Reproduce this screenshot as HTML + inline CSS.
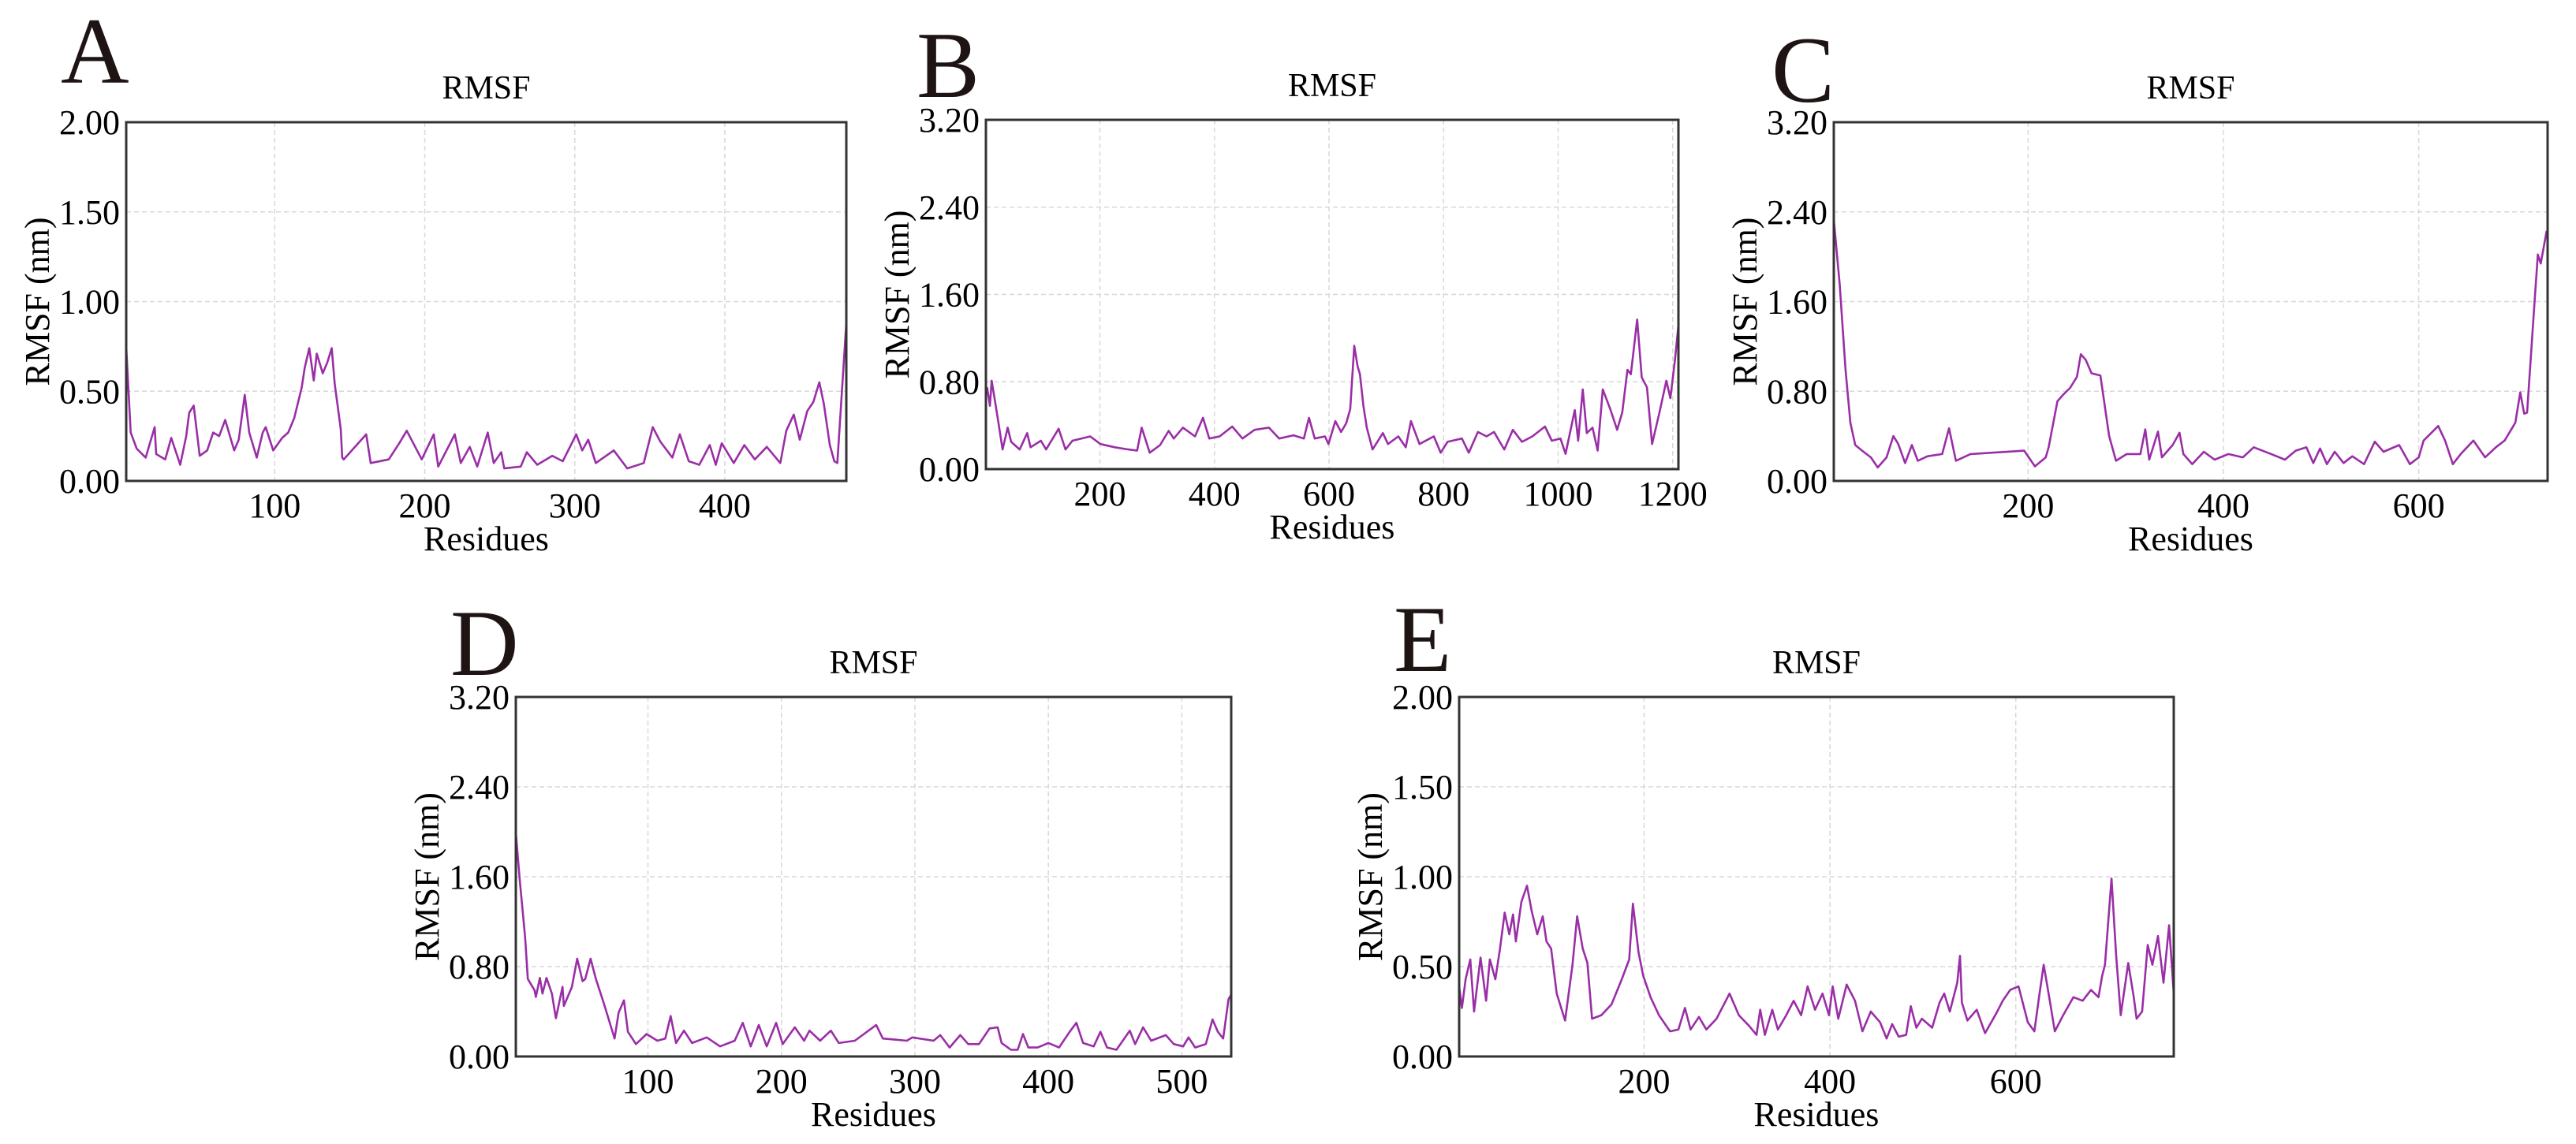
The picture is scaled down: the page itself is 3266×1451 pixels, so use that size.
<!DOCTYPE html>
<html><head><meta charset="utf-8"><style>
html,body{margin:0;padding:0;background:#fff;}
svg{display:block;font-family:"Liberation Serif",serif;}
svg text{font-family:"Liberation Serif",serif;}
</style></head><body>
<svg id="fig" xmlns="http://www.w3.org/2000/svg" width="3266" height="1451" viewBox="0 0 3266 1451"></svg>
<script>
// Panel A
const aRes=[1,4,8,14,20,21,27,31,37,41,43,46,50,55,59,63,67,73,76,80,83,88,92,94,99,105,109,113,118,120,123,126,128,132,135,138,140,144,145,146,161,164,176,183,188,198,206,209,220,224,230,235,242,246,251,253,264,268,275,285,292,301,305,309,314,326,335,346,352,357,365,370,376,383,390,394,398,406,413,420,428,437,441,446,450,455,459,463,466,470,473,475,481];
const aVal=[0.75,0.27,0.18,0.13,0.30,0.15,0.12,0.24,0.09,0.25,0.38,0.42,0.14,0.17,0.27,0.25,0.34,0.17,0.23,0.48,0.27,0.13,0.27,0.30,0.17,0.24,0.27,0.35,0.52,0.63,0.74,0.56,0.71,0.60,0.66,0.74,0.54,0.29,0.13,0.12,0.26,0.10,0.12,0.21,0.28,0.12,0.26,0.08,0.26,0.10,0.19,0.08,0.27,0.10,0.16,0.07,0.08,0.16,0.09,0.14,0.11,0.26,0.17,0.23,0.10,0.17,0.07,0.10,0.30,0.22,0.13,0.26,0.11,0.09,0.20,0.09,0.21,0.10,0.20,0.12,0.19,0.10,0.28,0.37,0.23,0.39,0.44,0.55,0.43,0.20,0.11,0.10,0.88];
// Panel B
const bRes=[3,8,11,17,23,30,39,45,60,73,79,97,106,128,140,152,183,201,226,250,265,273,287,305,320,329,345,366,380,391,409,431,449,470,495,513,538,556,565,575,593,599,611,621,630,637,644,650,654,660,666,676,694,703,721,734,743,758,783,795,807,832,844,860,875,888,906,921,937,955,977,989,1004,1013,1029,1035,1043,1050,1060,1069,1078,1091,1103,1112,1121,1127,1138,1146,1155,1164,1177,1189,1196,1204,1210];
const bVal=[0.75,0.58,0.81,0.62,0.42,0.18,0.38,0.25,0.18,0.33,0.20,0.26,0.18,0.37,0.18,0.26,0.30,0.23,0.20,0.18,0.17,0.38,0.15,0.22,0.35,0.28,0.38,0.30,0.47,0.28,0.30,0.39,0.28,0.36,0.38,0.28,0.31,0.28,0.47,0.28,0.30,0.23,0.44,0.34,0.42,0.55,1.13,0.94,0.87,0.58,0.38,0.18,0.33,0.23,0.30,0.20,0.44,0.23,0.30,0.15,0.25,0.28,0.15,0.34,0.30,0.34,0.18,0.36,0.25,0.30,0.39,0.26,0.28,0.14,0.54,0.26,0.73,0.33,0.38,0.17,0.73,0.55,0.36,0.52,0.91,0.87,1.37,0.84,0.75,0.23,0.52,0.81,0.65,1.00,1.32];
// Panel C
const cRes=[1,7,13,18,23,30,39,46,55,62,67,74,81,87,97,112,119,126,141,196,207,218,221,230,236,243,250,254,259,265,274,283,290,301,315,320,324,333,337,348,355,359,368,380,391,405,420,431,449,463,474,485,492,499,506,514,523,532,544,555,564,580,591,600,605,620,627,635,643,656,668,679,688,699,704,708,711,718,722,725,731];
const cVal=[2.33,1.76,0.99,0.52,0.32,0.27,0.21,0.12,0.21,0.40,0.33,0.16,0.32,0.18,0.22,0.24,0.47,0.18,0.24,0.27,0.13,0.21,0.30,0.71,0.77,0.83,0.93,1.13,1.08,0.96,0.94,0.40,0.18,0.24,0.24,0.46,0.19,0.44,0.21,0.32,0.43,0.24,0.15,0.26,0.19,0.24,0.21,0.30,0.24,0.19,0.27,0.30,0.16,0.29,0.15,0.26,0.16,0.22,0.15,0.35,0.26,0.32,0.15,0.21,0.36,0.49,0.36,0.15,0.24,0.36,0.21,0.30,0.36,0.52,0.79,0.60,0.61,1.52,2.02,1.94,2.23];
// Panel D
const dRes=[1,4,8,10,15,16,19,21,24,28,31,36,37,43,47,51,53,57,61,67,75,78,82,85,91,99,107,113,117,121,127,133,144,154,165,171,177,183,189,196,201,210,217,221,229,237,243,255,271,276,294,298,314,319,326,334,340,348,356,362,365,372,377,381,385,392,400,408,416,421,426,434,439,444,451,461,465,471,477,488,494,501,505,510,518,523,527,531,535,537];
const dVal=[1.99,1.56,1.06,0.69,0.59,0.53,0.70,0.56,0.70,0.56,0.34,0.62,0.45,0.62,0.87,0.67,0.69,0.87,0.69,0.47,0.16,0.39,0.50,0.22,0.11,0.20,0.14,0.16,0.36,0.12,0.23,0.12,0.17,0.09,0.14,0.30,0.09,0.28,0.09,0.30,0.11,0.26,0.14,0.23,0.14,0.23,0.12,0.14,0.28,0.16,0.14,0.17,0.14,0.19,0.08,0.19,0.11,0.11,0.25,0.26,0.12,0.06,0.06,0.20,0.08,0.08,0.12,0.08,0.22,0.30,0.12,0.09,0.22,0.08,0.06,0.23,0.11,0.26,0.14,0.19,0.11,0.09,0.17,0.08,0.11,0.33,0.22,0.16,0.51,0.55];
// Panel E
const eRes=[1,4,8,13,17,24,30,34,40,45,50,55,59,62,68,74,79,85,91,95,100,106,115,123,128,134,139,144,154,165,176,184,188,194,199,207,216,228,237,244,250,259,267,278,292,302,313,321,325,330,338,344,353,361,369,376,384,392,399,403,409,418,427,435,444,454,461,467,474,482,487,493,499,510,518,523,529,537,540,542,548,558,567,579,586,594,603,613,620,625,630,636,642,651,662,672,681,689,693,696,703,708,713,721,727,730,736,742,747,753,759,765,770];
const eVal=[0.39,0.27,0.43,0.54,0.25,0.55,0.31,0.54,0.43,0.60,0.80,0.68,0.79,0.64,0.86,0.95,0.81,0.68,0.78,0.64,0.60,0.35,0.20,0.51,0.78,0.60,0.52,0.21,0.23,0.29,0.43,0.54,0.85,0.58,0.45,0.33,0.23,0.14,0.15,0.27,0.15,0.22,0.15,0.21,0.35,0.23,0.17,0.12,0.26,0.12,0.26,0.15,0.23,0.31,0.23,0.39,0.26,0.35,0.23,0.39,0.21,0.40,0.31,0.14,0.25,0.19,0.10,0.18,0.11,0.12,0.28,0.16,0.21,0.16,0.30,0.35,0.25,0.41,0.56,0.30,0.20,0.26,0.13,0.24,0.31,0.37,0.39,0.19,0.14,0.33,0.51,0.33,0.14,0.23,0.33,0.31,0.37,0.33,0.45,0.51,0.99,0.56,0.23,0.52,0.33,0.21,0.25,0.62,0.51,0.67,0.41,0.73,0.35];
// Tick arrays
const xTicksA=[100,200,300,400];
const xTicksB=[200,400,600,800,1000,1200];
const xTicksC=[200,400,600];
const xTicksD=[100,200,300,400,500];
const xTicksE=[200,400,600];
const yTicks2=[0,0.5,1.0,1.5,2.0];
const yTicks32=[0,0.8,1.6,2.4,3.2];

const panels=[
 {id:'a',letter:'A',lx:77,ly:105,L:160,R:1073,T:155,B:610,xmin:1,xmax:481,ymax:2,xs:aRes,ys:aVal,xt:xTicksA,yt:yTicks2},
 {id:'b',letter:'B',lx:1162,ly:123,L:1250,R:2128,T:152,B:595,xmin:1,xmax:1210,ymax:3.2,xs:bRes,ys:bVal,xt:xTicksB,yt:yTicks32},
 {id:'c',letter:'C',lx:2246,ly:129,L:2325,R:3230,T:155,B:610,xmin:1,xmax:732,ymax:3.2,xs:cRes,ys:cVal,xt:xTicksC,yt:yTicks32},
 {id:'d',letter:'D',lx:571,ly:856,L:654,R:1561,T:884,B:1340,xmin:1,xmax:537,ymax:3.2,xs:dRes,ys:dVal,xt:xTicksD,yt:yTicks32},
 {id:'e',letter:'E',lx:1767,ly:851,L:1850,R:2756,T:884,B:1340,xmin:1,xmax:770,ymax:2,xs:eRes,ys:eVal,xt:xTicksE,yt:yTicks2}
];
const NS='http://www.w3.org/2000/svg';
const FF='"Liberation Serif", serif';
const svg=document.getElementById('fig');
function mk(tag,attrs,parent,text){const e=document.createElementNS(NS,tag);for(const k in attrs)e.setAttribute(k,attrs[k]);if(text!==undefined)e.textContent=text;parent.appendChild(e);return e;}
panels.forEach(p=>{
 const g=mk('g',{},svg);
 
 
 const sx=v=>p.L+(v-p.xmin)/(p.xmax-p.xmin)*(p.R-p.L);
 const sy=v=>p.B-v/p.ymax*(p.B-p.T);
 const lt=mk('text',{x:p.lx,y:p.ly,'font-size':120,fill:'#1e1414','font-family':FF},g,p.letter);
 
 
 const tt=mk('text',{x:(p.L+p.R)/2,y:p.T-30,'font-size':42,'text-anchor':'middle',fill:'#000','font-family':FF},g,'RMSF');
 
 
 p.xt.forEach(v=>{
  const x=sx(v);
  const gl=mk('line',{x1:x,x2:x,y1:p.T,y2:p.B,stroke:'#d8d8d8','stroke-width':1.5,'stroke-dasharray':'6,4'},g);
  
  
  const tl=mk('text',{x:x,y:p.B+46,'font-size':44,'text-anchor':'middle',fill:'#000','font-family':FF},g,String(v));
  
  
 });
 p.yt.forEach(v=>{
  const y=sy(v);
  if(v>0&&v<p.ymax){
   const gl=mk('line',{x1:p.L,x2:p.R,y1:y,y2:y,stroke:'#d8d8d8','stroke-width':1.5,'stroke-dasharray':'6,4'},g);
   
   
  }
  const tl=mk('text',{x:p.L-8,y:y+15,'font-size':44,'text-anchor':'end',fill:'#000','font-family':FF},g,v.toFixed(2));
  
  
 });
 const pts=p.xs.map((r,i)=>sx(r).toFixed(1)+','+sy(p.ys[i]).toFixed(1)).join(' ');
 const ln=mk('polyline',{points:pts,fill:'none',stroke:'#9a2ea6','stroke-width':2.6,'stroke-linejoin':'round'},g);
 
 
 const fr=mk('rect',{x:p.L,y:p.T,width:p.R-p.L,height:p.B-p.T,fill:'none',stroke:'#333','stroke-width':3},g);
 
 
 const xl=mk('text',{x:(p.L+p.R)/2,y:p.B+88,'font-size':44,'text-anchor':'middle',fill:'#000','font-family':FF},g,'Residues');
 
 
 const cy=(p.T+p.B)/2, cx=p.L-98;
 const yl=mk('text',{x:cx,y:cy,'font-size':44,'text-anchor':'middle',transform:'rotate(-90 '+cx+' '+cy+')',fill:'#000','font-family':FF},g,'RMSF (nm)');
 
 
});
</script>
</body></html>
